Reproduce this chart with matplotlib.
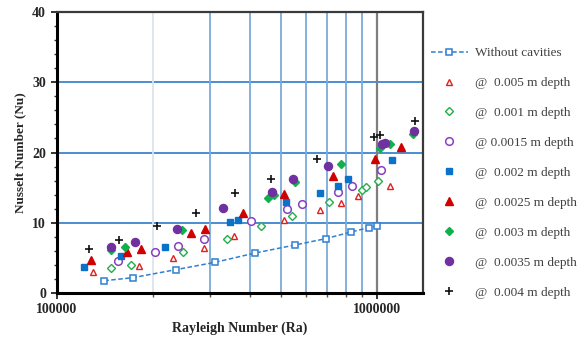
import matplotlib
matplotlib.use("Agg")
import matplotlib.pyplot as plt
from matplotlib.ticker import FixedLocator, FixedFormatter, NullFormatter, MultipleLocator

plt.rcParams['font.family'] = ['Liberation Serif', 'DejaVu Serif']

# ---- data ----
ra_without = [1.405e5, 1.725e5, 2.35e5, 3.12e5, 4.16e5, 5.54e5, 6.91e5, 8.29e5, 9.42e5, 1.0e6]
nu_without = [1.75, 2.18, 3.32, 4.37, 5.69, 6.83, 7.73, 8.68, 9.30, 9.58]

ra_0005 = [1.298e5, 1.804e5, 2.31e5, 2.88e5, 3.58e5, 5.14e5, 6.63e5, 7.72e5, 8.74e5, 1.098e6]
nu_0005 = [3.03, 3.84, 5.05, 6.38, 8.14, 10.36, 11.81, 12.85, 13.74, 15.20]

ra_0001 = [1.472e5, 1.707e5, 2.47e5, 3.39e5, 4.34e5, 5.44e5, 7.07e5, 9.01e5, 9.24e5, 1.007e6]
nu_0001 = [3.53, 4.01, 5.84, 7.73, 9.54, 10.93, 12.93, 14.73, 15.02, 15.97]

ra_00015 = [1.554e5, 2.03e5, 2.39e5, 2.89e5, 4.04e5, 5.25e5, 5.84e5, 7.53e5, 8.34e5, 1.029e6]
nu_00015 = [4.56, 5.77, 6.65, 7.64, 10.28, 11.91, 12.63, 14.42, 15.23, 17.51]

ra_0002 = [1.217e5, 1.585e5, 2.175e5, 3.465e5, 3.68e5, 5.20e5, 6.66e5, 7.53e5, 8.13e5, 1.112e6]
nu_0002 = [3.70, 5.31, 6.59, 10.11, 10.43, 12.91, 14.28, 15.23, 16.19, 19.00]

ra_00025 = [1.277e5, 1.651e5, 1.827e5, 2.62e5, 2.905e5, 3.81e5, 5.12e5, 7.30e5, 9.86e5, 1.189e6]
nu_00025 = [4.70, 5.88, 6.23, 8.58, 9.14, 11.43, 14.05, 16.70, 19.03, 20.83]

ra_0003 = [1.472e5, 1.631e5, 2.45e5, 4.57e5, 4.78e5, 5.56e5, 7.72e5, 1.022e6, 1.098e6, 1.298e6]
nu_0003 = [6.05, 6.59, 8.93, 13.57, 13.92, 15.76, 18.41, 20.57, 21.21, 22.63]

ra_00035 = [1.475e5, 1.753e5, 2.366e5, 3.295e5, 4.69e5, 5.47e5, 7.04e5, 1.034e6, 1.059e6, 1.305e6]
nu_00035 = [6.58, 7.29, 9.11, 12.06, 14.33, 16.23, 18.11, 21.17, 21.40, 23.10]

ra_0004 = [1.259e5, 1.562e5, 2.05e5, 2.713e5, 3.60e5, 4.65e5, 6.48e5, 9.81e5, 1.022e6, 1.314e6]
nu_0004 = [6.26, 7.54, 9.49, 11.39, 14.23, 16.23, 19.03, 22.25, 22.53, 24.48]

labels = ["Without cavities", "@  0.005 m depth", "@  0.001 m depth", "@ 0.0015 m depth",
          "@  0.002 m depth", "@  0.0025 m depth", "@  0.003 m depth", "@  0.0035 m depth",
          "@  0.004 m depth"]

x_major = [1e5, 1e6]
x_major_labels = ["100000", "1000000"]
x_minor = [2e5, 3e5, 4e5, 5e5, 6e5, 7e5, 8e5, 9e5]

# ---- figure ----
fig = plt.figure(figsize=(5.86, 3.39), dpi=100)
ax = fig.add_axes([57/586, 1-293/339, (423-57)/586, (293-12)/339])
ax.set_xscale('log')
ax.set_xlim(1e5, 1.393e6)
ax.set_ylim(0, 40)

# grid lines
for y in [10, 20, 30]:
    ax.axhline(y, color='#3d85d1', lw=1.3, zorder=1)
for i, xv in enumerate(x_minor):
    if i == 0:
        ax.axvline(xv, color='#dbe4ee', lw=1.3, zorder=1)
    else:
        ax.axvline(xv, color='#7aaad8', lw=1.3, zorder=1)
ax.axvline(1e6, color='#7f7f7f', lw=1.6, zorder=1)

ms = 5
h = []
h += ax.plot(ra_without, nu_without, ls=(0, (3, 1.6)), color='#2f80d0', lw=1.1,
             marker='s', ms=5, mfc='white', mec='#2f80d0', mew=1.1, label=labels[0], zorder=3)
h += ax.plot(ra_0005, nu_0005, ls='none', marker='^', ms=ms, mfc='white', mec='#e02020',
             mew=1.0, label=labels[1], zorder=4)
h += ax.plot(ra_0001, nu_0001, ls='none', marker='D', ms=4.2, mfc='white', mec='#1fb04a',
             mew=1.0, label=labels[2], zorder=4)
h += ax.plot(ra_00015, nu_00015, ls='none', marker='o', ms=ms+0.5, mfc='white', mec='#8a3fc0',
             mew=1.1, label=labels[3], zorder=4)
h += ax.plot(ra_0002, nu_0002, ls='none', marker='s', ms=ms, mfc='#0a72c8', mec='#0a72c8',
             label=labels[4], zorder=4)
h += ax.plot(ra_00025, nu_00025, ls='none', marker='^', ms=ms+0.5, mfc='#d00000', mec='#d00000',
             label=labels[5], zorder=4)
h += ax.plot(ra_0003, nu_0003, ls='none', marker='D', ms=4.5, mfc='#12b04a', mec='#12b04a',
             label=labels[6], zorder=4)
h += ax.plot(ra_00035, nu_00035, ls='none', marker='o', ms=ms+0.8, mfc='#7030a0', mec='#7030a0',
             label=labels[7], zorder=4)
h += ax.plot(ra_0004, nu_0004, ls='none', marker='+', ms=ms+0.5, color='#111111', mew=1.2,
             label=labels[8], zorder=4)

# ticks
ax.xaxis.set_major_locator(FixedLocator(x_major))
ax.xaxis.set_major_formatter(FixedFormatter(x_major_labels))
ax.xaxis.set_minor_locator(FixedLocator(x_minor))
ax.xaxis.set_minor_formatter(NullFormatter())
ax.yaxis.set_major_locator(MultipleLocator(10))
ax.yaxis.set_minor_locator(MultipleLocator(2))
ax.tick_params(axis='x', which='major', direction='out', length=4, width=1.2, pad=3,
               labelsize=10, colors='#111111')
ax.tick_params(axis='x', which='minor', direction='out', length=3, width=1, colors='#555555')
ax.tick_params(axis='y', which='major', direction='out', length=4, width=1.2, pad=4,
               labelsize=10, colors='#111111')
ax.tick_params(axis='y', which='minor', direction='out', length=2.5, width=1, colors='#333333')
for lab in ax.get_xticklabels() + ax.get_yticklabels():
    lab.set_fontweight('bold')
    lab.set_color('#262626')

for s in ['left', 'bottom']:
    ax.spines[s].set_color('black')
    ax.spines[s].set_linewidth(2.2)
for s in ['top', 'right']:
    ax.spines[s].set_color('#3a3a3a')
    ax.spines[s].set_linewidth(1.6)

ax.set_xlabel("Rayleigh Number (Ra)", fontsize=10, fontweight='bold', color='#262626', labelpad=4)
ax.set_ylabel("Nusselt Number (Nu)", fontsize=9.5, fontweight='bold', color='#262626', labelpad=4)

leg = fig.legend(handles=h, labels=labels, loc='upper left',
                 bbox_to_anchor=(431/586, 1-47/339), frameon=False,
                 fontsize=9.5, labelspacing=1.34, handlelength=2.8, handletextpad=0.55,
                 borderaxespad=0, borderpad=0)
for t in leg.get_texts():
    t.set_color('#404040')

fig.savefig("out.png", dpi=100)
